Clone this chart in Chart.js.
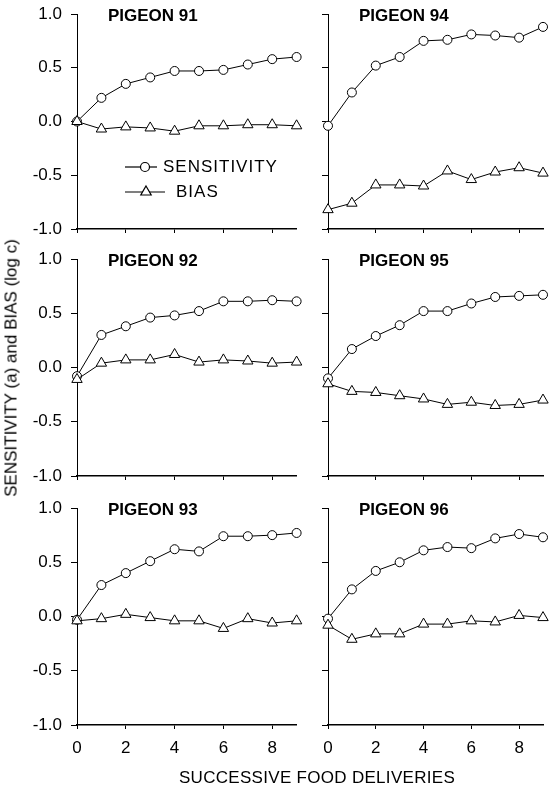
<!DOCTYPE html>
<html><head><meta charset="utf-8">
<script src="https://cdn.jsdelivr.net/npm/chart.js@4.4.1/dist/chart.umd.min.js"></script>
<style>
html,body{margin:0;padding:0;background:#fff;}
#wrap{position:relative;width:550px;height:791px;overflow:hidden;background:#fff;}
#main{position:absolute;left:0;top:0;}
#holder{position:absolute;left:-4000px;top:0;width:600px;height:300px;overflow:hidden;}
#holder canvas{position:absolute;left:0;top:0;}
.ttl{position:absolute;font-family:"Liberation Sans",Arial,sans-serif;font-size:17px;line-height:1;color:#000;white-space:nowrap;transform:translate(-50%,-50%);}
#ytitle{left:11px;top:368px;transform:translate(-50%,-50%) rotate(-90deg);}
#xtitle{left:317px;top:777px;letter-spacing:0.3px;}
</style></head><body>
<div id="wrap">
  <canvas id="main" width="550" height="791" style="width:550px;height:791px;"></canvas>
  <div id="ytitle" class="ttl">SENSITIVITY (a) and BIAS (log c)</div>
  <div id="xtitle" class="ttl">SUCCESSIVE FOOD DELIVERIES</div>
</div>
<div id="holder"></div>
<script>
// ---- data ----
const deliveries = [0, 1, 2, 3, 4, 5, 6, 7, 8, 9];
const xTicks = [0, 2, 4, 6, 8];
const yTicks = [-1.0, -0.5, 0.0, 0.5, 1.0];
const seriesNames = ['SENSITIVITY', 'BIAS'];
const pigeonNames = ['PIGEON 91', 'PIGEON 94', 'PIGEON 92', 'PIGEON 95', 'PIGEON 93', 'PIGEON 96'];

const sens91 = [0.00, 0.22, 0.35, 0.41, 0.47, 0.47, 0.48, 0.53, 0.58, 0.60];
const bias91 = [0.00, -0.07, -0.05, -0.06, -0.09, -0.04, -0.04, -0.03, -0.03, -0.04];
const sens94 = [-0.04, 0.27, 0.52, 0.60, 0.75, 0.76, 0.81, 0.80, 0.78, 0.88];
const bias94 = [-0.82, -0.76, -0.59, -0.59, -0.60, -0.46, -0.54, -0.47, -0.43, -0.48];
const sens92 = [-0.08, 0.30, 0.38, 0.46, 0.48, 0.52, 0.61, 0.61, 0.62, 0.61];
const bias92 = [-0.11, 0.04, 0.07, 0.07, 0.12, 0.05, 0.07, 0.06, 0.04, 0.05];
const sens95 = [-0.10, 0.17, 0.29, 0.39, 0.52, 0.52, 0.59, 0.65, 0.66, 0.67];
const bias95 = [-0.15, -0.22, -0.23, -0.26, -0.29, -0.34, -0.32, -0.35, -0.34, -0.30];
const sens93 = [-0.03, 0.29, 0.40, 0.51, 0.62, 0.60, 0.74, 0.74, 0.75, 0.77];
const bias93 = [-0.04, -0.02, 0.02, -0.01, -0.04, -0.04, -0.11, -0.02, -0.06, -0.04];
const sens96 = [-0.02, 0.25, 0.42, 0.50, 0.61, 0.64, 0.63, 0.72, 0.76, 0.73];
const bias96 = [-0.08, -0.21, -0.16, -0.16, -0.07, -0.07, -0.04, -0.05, 0.01, -0.01];

const sensSeries = [sens91, sens94, sens92, sens95, sens93, sens96];
const biasSeries = [bias91, bias94, bias92, bias95, bias93, bias96];

// ---- layout ----
const FONT = '"Liberation Sans", Arial, sans-serif';
const colLayout = [
  { left: 0, width: 305, axisW: 77, padRight: 8.4 },
  { left: 305, width: 245, axisW: 23, padRight: 2.4 }
];
const rowLayout = [
  { plotTop: 14, plotBottom: 229 },
  { plotTop: 259, plotBottom: 476 },
  { plotTop: 508, plotBottom: 725 }
];
const PAD_TOP = 22;
const X_AXIS_H = 35;

const panelText = {
  id: 'panelText',
  afterDatasetsDraw(chart, args, opts) {
    const ctx = chart.ctx, a = chart.chartArea;
    ctx.save();
    ctx.fillStyle = '#000';
    ctx.textBaseline = 'middle';
    ctx.textAlign = 'left';
    ctx.font = 'bold 17px ' + FONT;
    ctx.fillText(opts.title, a.left + 31, a.top + 2);
    if (opts.legend) {
      ctx.font = '17px ' + FONT;
      ctx.letterSpacing = '1px';
      const rows = [
        { y: a.top + 153, x0: 48, x1: 80, mx: 68, tx: 86, style: 'circle', r: 4.5, text: seriesNames[0] },
        { y: a.top + 178, x0: 48, x1: 88, mx: 69, tx: 99, style: 'triangle', r: 6, text: seriesNames[1] }
      ];
      rows.forEach(rw => {
        ctx.strokeStyle = '#000';
        ctx.lineWidth = 1.2;
        ctx.beginPath();
        ctx.moveTo(a.left + rw.x0, rw.y);
        ctx.lineTo(a.left + rw.x1, rw.y);
        ctx.stroke();
        ctx.fillStyle = '#fff';
        ctx.strokeStyle = '#000';
        Chart.helpers.drawPoint(ctx, { pointStyle: rw.style, radius: rw.r, borderWidth: 1, rotation: 0 }, a.left + rw.mx, rw.y);
        ctx.fillStyle = '#000';
        ctx.fillText(rw.text, a.left + rw.tx, rw.y);
      });
    }
    ctx.restore();
  }
};

const wrap = document.getElementById('wrap');
const holder = document.getElementById('holder');
const mainCanvas = document.getElementById('main');
const mainCtx = mainCanvas.getContext('2d');
const panels = [];

for (let i = 0; i < 6; i++) {
  const col = i % 2, row = Math.floor(i / 2);
  const C = colLayout[col], R = rowLayout[row];
  const bottomRow = row === 2;
  const padBottom = 1;
  const top = R.plotTop - PAD_TOP;
  const height = (R.plotBottom - R.plotTop) + PAD_TOP + X_AXIS_H + padBottom;
  const cv = document.createElement('canvas');
  cv.width = C.width; cv.height = height;
  cv.style.width = C.width + 'px'; cv.style.height = height + 'px';
  holder.appendChild(cv);

  const mk = arr => deliveries.map((d, k) => ({ x: d, y: arr[k] }));

  const chart = new Chart(cv.getContext('2d'), {
    type: 'line',
    data: {
      datasets: [
        { label: seriesNames[0], data: mk(sensSeries[i]), borderColor: '#000', borderWidth: 1,
          pointStyle: 'circle', pointRadius: 4.5, pointBackgroundColor: '#fff', pointBorderColor: '#000',
          pointBorderWidth: 1, tension: 0, clip: false, order: 1, fill: false },
        { label: seriesNames[1], data: mk(biasSeries[i]), borderColor: '#000', borderWidth: 1,
          pointStyle: 'triangle', pointRadius: 6, pointBackgroundColor: '#fff', pointBorderColor: '#000',
          pointBorderWidth: 1, tension: 0, clip: false, order: 0, fill: false }
      ]
    },
    options: {
      responsive: false,
      animation: false,
      devicePixelRatio: 1,
      events: [],
      layout: { padding: { left: 0, top: PAD_TOP, right: C.padRight, bottom: padBottom } },
      plugins: {
        legend: { display: false },
        tooltip: { enabled: false },
        panelText: { title: pigeonNames[i], legend: i === 0 }
      },
      scales: {
        x: {
          type: 'linear', position: 'bottom', display: true, min: 0, max: 9,
          afterBuildTicks: s => { s.ticks = xTicks.map(v => ({ value: v })); },
          afterFit: s => { s.height = X_AXIS_H; },
          grid: { display: true, drawOnChartArea: false, drawTicks: true, tickLength: 4, tickColor: '#000' },
          border: { display: true, color: '#000', width: 1.5 },
          ticks: { display: true, padding: 9, color: bottomRow ? '#000' : 'rgba(0,0,0,0)', maxRotation: 0, autoSkip: false,
                   font: { family: FONT, size: 17 } }
        },
        y: {
          type: 'linear', position: 'left', display: true, min: -1, max: 1,
          afterBuildTicks: s => { s.ticks = yTicks.map(v => ({ value: v })); },
          afterFit: s => { s.width = C.axisW; },
          grid: { display: true, drawOnChartArea: false, drawTicks: true, tickLength: 6, tickColor: '#000' },
          border: { display: true, color: '#000', width: 1 },
          ticks: { display: col === 0, padding: 9, color: '#000', callback: v => Number(v).toFixed(1),
                   font: { family: FONT, size: 17 } }
        }
      }
    },
    plugins: [panelText]
  });
  panels.push({ chart, left: C.left, top });
}

function composite() {
  mainCtx.clearRect(0, 0, mainCanvas.width, mainCanvas.height);
  panels.forEach(p => { mainCtx.drawImage(p.chart.canvas, p.left, p.top); });
}

try {
  composite();
  if (document.fonts && document.fonts.ready) {
    document.fonts.ready.then(() => {
      panels.forEach(p => p.chart.draw());
      composite();
    });
  }
} catch (e) {
  panels.forEach(p => {
    const c = p.chart.canvas;
    c.style.position = 'absolute';
    c.style.left = p.left + 'px';
    c.style.top = p.top + 'px';
    wrap.appendChild(c);
  });
}
</script>
</body></html>
